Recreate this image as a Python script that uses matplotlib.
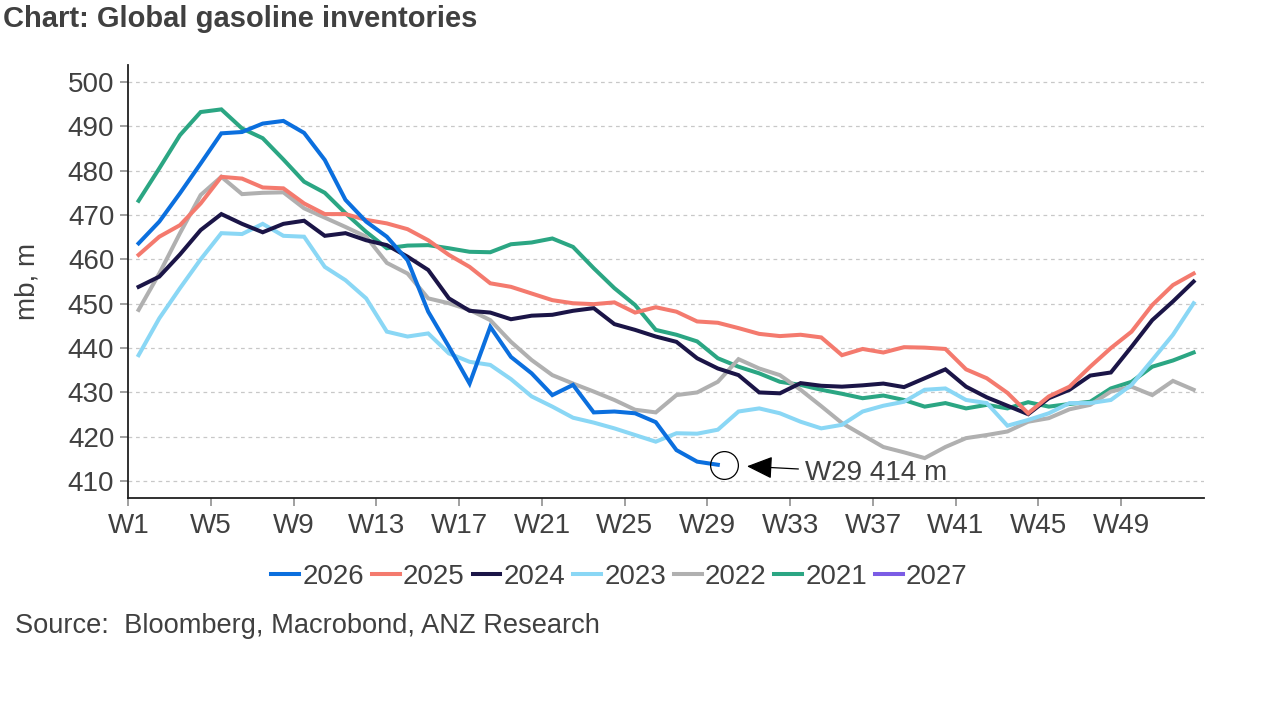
import numpy as np
import matplotlib.pyplot as plt

plt.rcParams['font.family'] = ['Liberation Sans', 'DejaVu Sans']

# weekly global gasoline inventories, mb
weeks = np.arange(1, 53)
tick_weeks = [1, 5, 9, 13, 17, 21, 25, 29, 33, 37, 41, 45, 49]

y2026 = [463.6, 468.5, 474.9, 481.6, 488.4, 488.7, 490.6, 491.2, 488.5, 482.4,
         473.4, 468.5, 465.1, 459.8, 448.2, 440.3, 432.0, 444.8, 438.0, 434.3,
         429.4, 431.7, 425.5, 425.7, 425.3, 423.3, 417.0, 414.4, 413.7]
y2025 = [461.0, 465.1, 467.7, 472.6, 478.6, 478.2, 476.2, 476.0, 472.6, 470.2,
         470.2, 468.9, 468.1, 466.8, 464.3, 461.0, 458.3, 454.6, 453.8, 452.3,
         450.8, 450.1, 449.9, 450.3, 448.0, 449.2, 448.2, 446.0, 445.7, 444.5,
         443.2, 442.7, 443.0, 442.4, 438.4, 439.8, 439.0, 440.2, 440.1, 439.8,
         435.2, 433.2, 429.9, 425.3, 429.1, 431.3, 435.8, 440.0, 443.7, 449.7,
         454.2, 456.8]
y2024 = [453.8, 456.1, 461.1, 466.6, 470.2, 468.0, 466.1, 468.0, 468.7, 465.3,
         465.9, 464.3, 463.2, 460.6, 457.6, 451.2, 448.4, 448.0, 446.5, 447.3,
         447.5, 448.4, 449.0, 445.4, 444.1, 442.6, 441.4, 437.7, 435.4, 433.9,
         430.0, 429.8, 432.1, 431.5, 431.3, 431.6, 432.0, 431.2, 433.2, 435.2,
         431.3, 428.9, 427.0, 425.1, 428.7, 430.6, 433.8, 434.5, 440.3, 446.3,
         450.5, 455.0]
y2023 = [438.4, 446.7, 453.5, 460.0, 465.9, 465.7, 468.0, 465.3, 465.1, 458.3,
         455.3, 451.2, 443.7, 442.6, 443.3, 438.8, 436.9, 436.2, 433.0, 429.1,
         426.8, 424.3, 423.2, 421.9, 420.4, 418.9, 420.8, 420.7, 421.6, 425.7,
         426.4, 425.3, 423.4, 421.9, 422.7, 425.7, 427.0, 427.9, 430.6, 430.9,
         428.3, 427.6, 422.5, 423.8, 425.3, 427.6, 427.6, 428.3, 431.7, 437.3,
         443.0, 450.1]
y2022 = [448.6, 456.8, 465.9, 474.5, 478.6, 474.7, 475.0, 475.1, 471.5, 469.4,
         467.3, 465.1, 459.2, 456.8, 451.2, 450.1, 448.6, 446.3, 441.4, 437.3,
         433.9, 432.0, 430.2, 428.3, 426.1, 425.5, 429.4, 430.0, 432.4, 437.5,
         435.4, 433.9, 430.6, 426.9, 423.1, 420.4, 417.7, 416.5, 415.2, 417.7,
         419.7, 420.4, 421.2, 423.4, 424.2, 426.2, 427.2, 430.2, 431.3, 429.4,
         432.6, 430.6]
y2021 = [473.2, 480.5, 488.0, 493.2, 493.8, 489.5, 487.3, 482.5, 477.5, 475.0,
         470.4, 466.2, 462.5, 463.1, 463.2, 462.5, 461.7, 461.6, 463.4, 463.8,
         464.7, 462.8, 458.0, 453.5, 449.7, 444.1, 443.0, 441.5, 437.7, 435.8,
         434.3, 432.4, 431.7, 430.6, 429.7, 428.7, 429.3, 428.3, 426.8, 427.6,
         426.4, 427.2, 426.4, 427.8, 426.8, 427.4, 427.9, 430.9, 432.4, 435.8,
         437.2, 439.0]
y2027 = []

series = [('2026', y2026, '#0b6fde'),
          ('2025', y2025, '#f47a6e'),
          ('2024', y2024, '#1b1547'),
          ('2023', y2023, '#8ad7f5'),
          ('2022', y2022, '#b0b0b0'),
          ('2021', y2021, '#2ba683'),
          ('2027', y2027, '#7b5ce5')]

text_col = '#404040'
fs = 20

fig = plt.figure(figsize=(12.8, 7.2), dpi=100)
ax = fig.add_axes([0.1002, 0.3083, 0.8404, 0.6014])

# draw older years first so 2026 sits on top
for name, vals, col in reversed(series):
    ax.plot(weeks[:len(vals)], vals, color=col, lw=2.9, label=name,
            solid_joinstyle='miter', zorder=3)

# latest point marker + note
last_w = weeks[len(y2026) - 1]
last_v = y2026[-1]
ax.plot([last_w + 0.3], [last_v], marker='o', ms=20, mfc='none', mec='black',
        mew=0.9, zorder=4)
ax.annotate('W%d %d m' % (last_w, round(last_v)), xy=(last_w, last_v),
            xytext=(63, -6), textcoords='offset points', ha='left', va='center',
            fontsize=fs, color=text_col,
            arrowprops=dict(arrowstyle='-|>,head_length=0.8,head_width=0.35',
                            color='black', lw=0.9, shrinkA=3, shrinkB=21))

ax.set_xlim(0.5, 52.5)
ax.set_ylim(406.2, 503.8)
ax.set_yticks(np.arange(410, 501, 10))
ax.set_xticks([w - 0.5 for w in tick_weeks])
ax.set_xticklabels(['W%d' % w for w in tick_weeks])

ax.yaxis.grid(True, linestyle=(0, (3, 3)), color='#c8c8c8', lw=0.9)
ax.set_axisbelow(True)
for s in ['top', 'right']:
    ax.spines[s].set_visible(False)
for s in ['left', 'bottom']:
    ax.spines[s].set_color('#202020')
    ax.spines[s].set_linewidth(1.3)
ax.tick_params(axis='both', length=6, width=1.2, color='#909090',
               labelsize=fs, labelcolor=text_col, pad=4)
ax.tick_params(axis='x', pad=5)

ax.set_ylabel('mb, m', fontsize=fs, color=text_col, labelpad=20)

handles, labels = ax.get_legend_handles_labels()
order = [labels.index(s[0]) for s in series]
fig.legend([handles[i] for i in order], [labels[i] for i in order],
           loc='center', bbox_to_anchor=(0.484, 0.1986), ncol=7, frameon=False,
           fontsize=fs, handlelength=1.0, handletextpad=0.12, columnspacing=0.28,
           labelcolor=text_col)

fig.text(0.002, 0.974, 'Chart: Global gasoline inventories', fontsize=21,
         fontweight='bold', color=text_col, ha='left', va='center')
fig.text(0.012, 0.1306, 'Source:  Bloomberg, Macrobond, ANZ Research',
         fontsize=19.6, color=text_col, ha='left', va='center')

fig.savefig('out.png', dpi=100)
